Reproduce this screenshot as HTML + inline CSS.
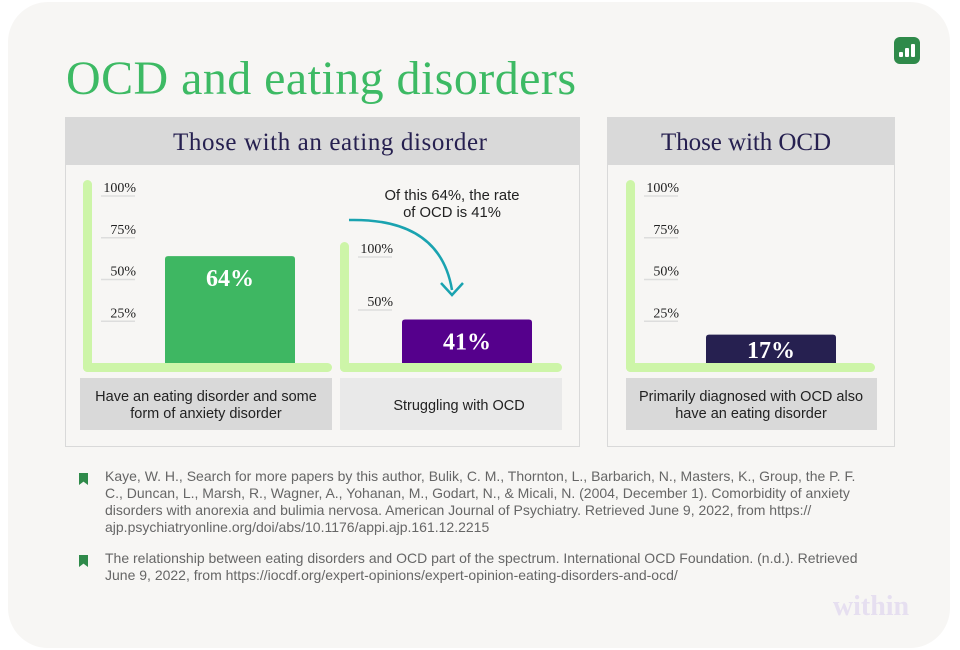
<!DOCTYPE html>
<html><head><meta charset="utf-8"><style>
body{margin:0;width:960px;height:650px;background:#fff;overflow:hidden;font-family:"Liberation Sans",sans-serif}
.ref{position:absolute;left:105px;width:762px;font-size:14px;line-height:17px;color:#666}
.bm{position:absolute;left:79px;width:9px;height:12px;background:#2f8a4a;clip-path:polygon(0 0,100% 0,100% 100%,50% 72%,0 100%)}
</style></head><body>
<svg id="c" width="960" height="650" style="position:absolute;left:0;top:0">
<rect x="8" y="2" width="942" height="646" rx="40" fill="#f7f6f4"/>
<text x="66" y="94" font-family="Liberation Serif,serif" font-size="48" fill="#3dba64" textLength="510">OCD and eating disorders</text>
<g><rect x="894" y="37" width="26" height="27" rx="6" fill="#2f8a4a"/><rect x="899" y="52" width="4" height="5" rx="1" fill="#fff"/><rect x="905" y="48" width="4" height="9" rx="1" fill="#fff"/><rect x="911" y="44" width="4" height="13" rx="1" fill="#fff"/></g>
<rect x="65.5" y="117.5" width="514" height="329" fill="#f7f6f4" stroke="#d9d9d9"/>
<rect x="66" y="118" width="513" height="47" fill="#d9d9d9"/>
<text x="330" y="150" text-anchor="middle" font-family="Liberation Serif,serif" font-size="25" fill="#262050" textLength="314">Those with an eating disorder</text>
<rect x="607.5" y="117.5" width="287" height="329" fill="#f7f6f4" stroke="#d9d9d9"/>
<rect x="608" y="118" width="286" height="47" fill="#d9d9d9"/>
<text x="746" y="150" text-anchor="middle" font-family="Liberation Serif,serif" font-size="25" fill="#262050" textLength="170">Those with OCD</text>
<rect x="80" y="378" width="252" height="52" fill="#d9d9d9"/>
<text x="206" y="401" text-anchor="middle" font-size="14.5" fill="#222">Have an eating disorder and some</text>
<text x="206" y="418" text-anchor="middle" font-size="14.5" fill="#222">form of anxiety disorder</text>
<rect x="340" y="378" width="222" height="52" fill="#e9e9e9"/>
<text x="459" y="410" text-anchor="middle" font-size="14.5" fill="#222">Struggling with OCD</text>
<rect x="626" y="378" width="251" height="52" fill="#d9d9d9"/>
<text x="751" y="401" text-anchor="middle" font-size="14.5" fill="#222">Primarily diagnosed with OCD also</text>
<text x="751" y="418" text-anchor="middle" font-size="14.5" fill="#222">have an eating disorder</text>
<text x="452" y="200" text-anchor="middle" font-size="14.8" fill="#222">Of this 64%, the rate</text>
<text x="452" y="217" text-anchor="middle" font-size="14.8" fill="#222">of OCD is 41%</text>
<path d="M349 220 Q440 218 452 290" fill="none" stroke="#1aa3b0" stroke-width="2.5"/>
<path d="M441 283 L452 295 L463 283" fill="none" stroke="#1aa3b0" stroke-width="2.5"/>
<text x="871" y="615" font-family="Liberation Serif,serif" font-weight="bold" font-size="28" fill="#e6dff0" text-anchor="middle">within</text>
</svg>
<div class="bm" style="top:473px"></div>
<div class="ref" style="top:468px">Kaye, W. H., Search for more papers by this author, Bulik, C. M., Thornton, L., Barbarich, N., Masters, K., Group, the P. F. C., Duncan, L., Marsh, R., Wagner, A., Yohanan, M., Godart, N., &amp; Micali, N. (2004, December 1). Comorbidity of anxiety disorders with anorexia and bulimia nervosa. American Journal of Psychiatry. Retrieved June 9, 2022, from https:// ajp.psychiatryonline.org/doi/abs/10.1176/appi.ajp.161.12.2215</div>
<div class="bm" style="top:555px"></div>
<div class="ref" style="top:550px">The relationship between eating disorders and OCD part of the spectrum. International OCD Foundation. (n.d.). Retrieved June 9, 2022, from https://iocdf.org/expert-opinions/expert-opinion-eating-disorders-and-ocd/</div>
<script>
const chartNames=["eating-anxiety","ocd-within-eating","ocd-eating"];
const values=[64,41,17];
const barColors=["#3eb762","#55008c","#262050"];
const tickSets=[[25,50,75,100],[50,100],[25,50,75,100]];
const tickLabels=[["25%","50%","75%","100%"],["50%","100%"],["25%","50%","75%","100%"]];
const geom=[{ax:83,top:180,right:332,h:167,bx:165},{ax:340,top:242,right:562,h:106,bx:402},{ax:626,top:180,right:875,h:167,bx:706}];
const svg=document.getElementById('c');const NS='http://www.w3.org/2000/svg';
const base=363;
function mk(t,a,p){const e=document.createElementNS(NS,t);for(const k in a)e.setAttribute(k,a[k]);(p||svg).appendChild(e);return e;}
values.forEach((v,i)=>{
 const g=geom[i];const y=p=>base-p/100*g.h;
 const grp=mk('g',{});
 
 
 tickSets[i].forEach((t,j)=>{
  const ln=mk('line',{x1:g.ax+18,x2:g.ax+52,y1:y(t),y2:y(t),stroke:'#ddd','stroke-width':1.5},grp);
  
  
  const tx=mk('text',{x:g.ax+53,y:y(t)-4,'text-anchor':'end','font-family':'Liberation Serif,serif','font-size':14,fill:'#222'},grp);
  tx.textContent=tickLabels[i][j];
  
  
 });
 const bt=y(v);
 const bar=mk('path',{d:`M${g.bx} ${base}V${bt+3}q0-3 3-3H${g.bx+127}q3 0 3 3V${base}Z`,fill:barColors[i]},grp);
 
 
 const axy=mk('rect',{x:g.ax,y:g.top,width:9,height:base+9-g.top,rx:4.5,fill:'#cdf5a8'},grp);
 
 
 const axx=mk('rect',{x:g.ax,y:base,width:g.right-g.ax,height:9,rx:4.5,fill:'#cdf5a8'},grp);
 
 
 const vt=mk('text',{x:g.bx+65,y:Math.min(bt+30,base-5),'text-anchor':'middle','font-family':'Liberation Serif,serif','font-weight':'bold','font-size':24,fill:'#fff'},grp);
 vt.textContent=v+'%';
 
 
});
</script>
</body></html>
